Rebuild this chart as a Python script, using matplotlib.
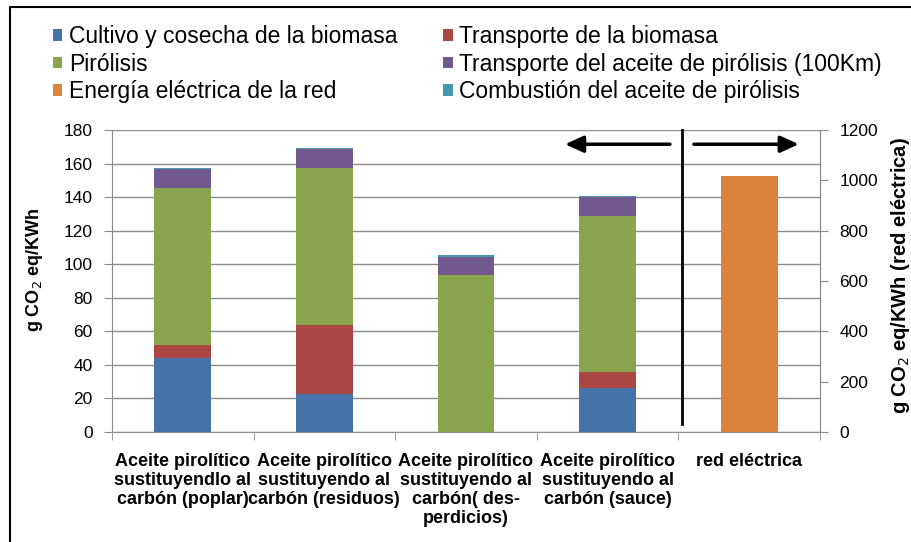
import numpy as np
import matplotlib
matplotlib.use('Agg')
import matplotlib.pyplot as plt
from matplotlib.lines import Line2D

plt.rcParams['font.family'] = ['Liberation Sans', 'DejaVu Sans']

# Data
categories = ['Aceite pirolítico\nsustituyendlo al\ncarbón (poplar)',
              'Aceite pirolítico\nsustituyendo al\ncarbón (residuos)',
              'Aceite pirolítico\nsustituyendo al\ncarbón( des-\nperdicios)',
              'Aceite pirolítico\nsustituyendo al\ncarbón (sauce)',
              'red eléctrica\n\n\n']
cultivo = [44, 22.5, 0, 26.5]
transporte = [8, 41.5, 0, 9.5]
pirolisis = [93.5, 93.5, 93.5, 93]
transp_aceite = [11, 11, 11, 11]
combustion = [1, 0.8, 0.8, 0.8]
red = [0, 0, 0, 0, 1017]

series = [
    ('Cultivo y cosecha de la biomasa', cultivo, '#4572A7'),
    ('Transporte de la biomasa', transporte, '#AA4643'),
    ('Pirólisis', pirolisis, '#89A54E'),
    ('Transporte del aceite de pirólisis (100Km)', transp_aceite, '#71588F'),
    ('Combustión del aceite de pirólisis', combustion, '#4198AF'),
]

fig = plt.figure(figsize=(9.11, 5.42), dpi=100)
ax = fig.add_axes([0.1229, 0.2030, 0.7772, 0.5572])
ax2 = ax.twinx()

x = np.arange(len(categories))
width = 0.4
bottom = np.zeros(4)
handles = {}
for name, vals, color in series:
    h = ax.bar(x[:4], vals, width, bottom=bottom, color=color, label=name, zorder=3)
    handles[name] = h
    bottom += np.array(vals)

h = ax2.bar(x, red, width, color='#DB843D', zorder=3)
handles['Energía eléctrica de la red'] = h

ax.set_xlim(-0.5, 4.5)
ax.set_ylim(0, 180)
ax.set_yticks(range(0, 181, 20))
ax2.set_ylim(0, 1200)
ax2.set_yticks(range(0, 1201, 200))

ax.yaxis.grid(True, color='#8c8c8c', linewidth=1, zorder=0)
ax.set_axisbelow(True)

ax.set_xticks(x)
ax.set_xticklabels(categories, fontsize=13, fontweight='bold', va='top', linespacing=1.15)
ax.tick_params(axis='x', which='major', length=0, pad=15)
ax.set_xticks(np.arange(-0.5, 5, 1), minor=True)
ax.tick_params(axis='x', which='minor', length=6, color='#8c8c8c', direction='out')

for a in (ax, ax2):
    a.spines['top'].set_visible(False)
    for s in ('left', 'right', 'bottom'):
        a.spines[s].set_color('#8c8c8c')
    a.tick_params(axis='y', length=6, color='#8c8c8c', labelsize=12.5, pad=8)
ax2.spines['left'].set_visible(False)
ax2.spines['bottom'].set_visible(False)

ax.set_ylabel('g CO$_2$ eq/KWh', fontsize=13, fontweight='bold')
ax.yaxis.set_label_coords(-0.0946, 0.536)
ax2.set_ylabel('g CO$_2$ eq/KWh (red eléctrica)', fontsize=14.5, fontweight='bold')
ax2.yaxis.set_label_coords(1.0975, 0.517)

# arrows and separator
ax.plot([3.525, 3.525], [180, 5], color='black', linewidth=2, zorder=4, clip_on=False)
ax.annotate('', xy=(2.68, 171.5), xytext=(3.46, 171.5),
            arrowprops=dict(arrowstyle='-|>,head_length=1.1,head_width=0.5', color='black', lw=2.5))
ax.annotate('', xy=(4.37, 171.5), xytext=(3.59, 171.5),
            arrowprops=dict(arrowstyle='-|>,head_length=1.1,head_width=0.5', color='black', lw=2.5))

# legend laid out row-wise like the original (column-major order for matplotlib)
order = ['Cultivo y cosecha de la biomasa', 'Pirólisis', 'Energía eléctrica de la red',
         'Transporte de la biomasa', 'Transporte del aceite de pirólisis (100Km)',
         'Combustión del aceite de pirólisis']
fig.legend([handles[n] for n in order], order, loc='upper left', ncol=2,
           bbox_to_anchor=(53 / 911, 1 - 25 / 542), frameon=False, fontsize=16.5,
           borderpad=0, borderaxespad=0,
           handlelength=0.4, handleheight=0.4, handletextpad=0.3,
           columnspacing=2.0, labelspacing=0.2)

# outer border (top and left visible)
fig.add_artist(Line2D([10 / 911, 10 / 911, 1], [0, 1 - 7 / 542, 1 - 7 / 542],
                      transform=fig.transFigure, color='black', linewidth=1.5))

fig.savefig('out.png', dpi=100)
